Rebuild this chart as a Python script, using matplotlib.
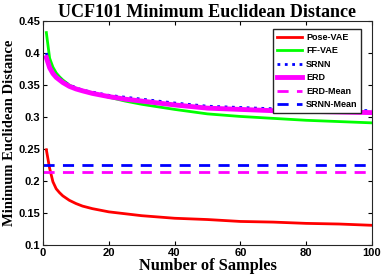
import matplotlib.pyplot as plt

# Values
samples = [1, 2, 3, 4, 5, 6, 8, 10, 12, 15, 20, 25, 30, 40, 50, 60, 70, 80, 90, 100]
pose_vae = [0.249, 0.220, 0.199, 0.188, 0.182, 0.177, 0.170, 0.165, 0.161, 0.157, 0.152,
            0.149, 0.146, 0.142, 0.140, 0.137, 0.136, 0.134, 0.133, 0.131]
ff_vae = [0.432, 0.392, 0.378, 0.369, 0.363, 0.358, 0.350, 0.345, 0.342, 0.338, 0.331,
          0.325, 0.320, 0.312, 0.305, 0.301, 0.298, 0.295, 0.293, 0.291]
srnn = [0.400, 0.380, 0.370, 0.364, 0.360, 0.356, 0.350, 0.346, 0.342, 0.339, 0.334,
        0.331, 0.328, 0.322, 0.317, 0.315, 0.313, 0.312, 0.311, 0.310]
erd = [0.393, 0.377, 0.368, 0.362, 0.358, 0.354, 0.348, 0.344, 0.341, 0.337, 0.332,
       0.328, 0.325, 0.319, 0.314, 0.312, 0.310, 0.309, 0.308, 0.307]
erd_mean = 0.215
srnn_mean = 0.2245

tick_font = {'family': 'Liberation Sans', 'weight': 'bold', 'size': 8}

fig, ax = plt.subplots(figsize=(3.81, 2.77), dpi=100)
fig.subplots_adjust(left=0.113, right=0.976, top=0.924, bottom=0.115)

ax.plot(samples, pose_vae, color='red', lw=2, label='Pose-VAE')
ax.plot(samples, ff_vae, color='#00ff00', lw=2, label='FF-VAE')
ax.plot(samples, srnn, color='blue', lw=2, linestyle=':', label='SRNN')
ax.plot(samples, erd, color='magenta', lw=3.5, label='ERD')
ax.plot([0, 100], [erd_mean, erd_mean], color='magenta', lw=2,
        linestyle=(0, (4, 3)), label='ERD-Mean')
ax.plot([0, 100], [srnn_mean, srnn_mean], color='blue', lw=2,
        linestyle=(0, (4, 3)), label='SRNN-Mean')

ax.set_xlim(0, 100)
ax.set_ylim(0.1, 0.45)
ax.set_xticks([0, 20, 40, 60, 80, 100])
ax.set_yticks([0.1, 0.15, 0.2, 0.25, 0.3, 0.35, 0.4, 0.45])
ax.set_xticklabels(['0', '20', '40', '60', '80', '100'], fontdict=tick_font)
ax.set_yticklabels(['0.1', '0.15', '0.2', '0.25', '0.3', '0.35', '0.4', '0.45'],
                   fontdict=tick_font)
ax.tick_params(direction='in', length=3, top=True, right=True, pad=2)
for s in ax.spines.values():
    s.set_linewidth(0.8)
    s.set_color('#262626')

ax.set_title('UCF101 Minimum Euclidean Distance', fontfamily='Liberation Serif',
             fontweight='bold', fontsize=13, pad=3)
ax.set_xlabel('Number of Samples', fontfamily='Liberation Serif',
              fontweight='bold', fontsize=11.8, labelpad=0)
ax.set_ylabel('Minimum Euclidean Distance', fontfamily='Liberation Serif',
              fontweight='bold', fontsize=10.5, labelpad=2)

ax.legend(loc='upper right', bbox_to_anchor=(0.967, 0.964),
          prop={'family': 'Liberation Sans', 'weight': 'bold', 'size': 6.5},
          fancybox=False, edgecolor='#262626', framealpha=1, handlelength=2.8,
          labelspacing=0.5, borderaxespad=0, handletextpad=0.4, borderpad=0.4)

fig.savefig('out.png', dpi=100)
